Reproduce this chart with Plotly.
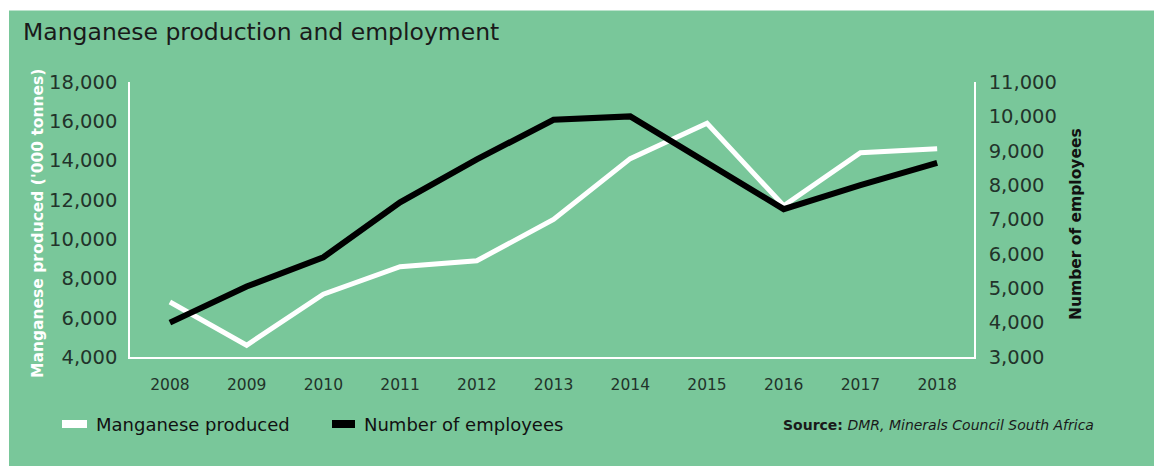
import plotly.graph_objects as go

# Data
years = [2008, 2009, 2010, 2011, 2012, 2013, 2014, 2015, 2016, 2017, 2018]
manganese_produced = [6800, 4600, 7200, 8600, 8900, 11000, 14100, 15900, 11700, 14400, 14600]  # '000 tonnes
employees = [4000, 5050, 5900, 7500, 8750, 9900, 10000, 8650, 7300, 8000, 8650]

left_ticks = [4000, 6000, 8000, 10000, 12000, 14000, 16000, 18000]
right_ticks = [3000, 4000, 5000, 6000, 7000, 8000, 9000, 10000, 11000]

BG = "#79C79A"
DARK = "#22332a"
FONT = "DejaVu Sans"

W, H = 1154, 466
L, R, T, B = 130, 180, 82, 109


def px(x):
    return (x - L) / (W - L - R)


def py(y):
    return (H - B - y) / (H - T - B)


fig = go.Figure()

fig.add_trace(go.Scatter(
    x=years, y=manganese_produced, mode="lines", name="Manganese produced",
    line=dict(color="white", width=5), yaxis="y", showlegend=False,
))
fig.add_trace(go.Scatter(
    x=years, y=employees, mode="lines", name="Number of employees",
    line=dict(color="black", width=6), yaxis="y2", showlegend=False,
))

y_font = dict(family=FONT, size=19.5, color=DARK)
x_font = dict(family=FONT, size=15.5, color=DARK)

fig.update_layout(
    width=W, height=H,
    margin=dict(l=L, r=R, t=T, b=B),
    paper_bgcolor=BG,
    plot_bgcolor="rgba(0,0,0,0)",
    font=dict(family=FONT, color=DARK),
    xaxis=dict(
        range=[2007.48, 2018.48], tickvals=years, ticktext=[str(y) for y in years],
        showgrid=False, zeroline=False, showline=True, linecolor="white", linewidth=1.5,
        tickfont=x_font, ticks="", ticklabelstandoff=13,
    ),
    yaxis=dict(
        range=[4000, 18000], tickvals=left_ticks, ticktext=[f"{v:,}" for v in left_ticks],
        showgrid=False, zeroline=False, showline=True, linecolor="white", linewidth=1.5,
        tickfont=y_font, ticks="", ticklabelstandoff=7,
    ),
    yaxis2=dict(
        range=[3000, 11000], tickvals=right_ticks, ticktext=[f"{v:,}" for v in right_ticks],
        overlaying="y", side="right",
        showgrid=False, zeroline=False, showline=True, linecolor="white", linewidth=1.5,
        tickfont=y_font, ticks="", ticklabelstandoff=9,
    ),
    showlegend=False,
)

shapes = [
    # white outer border strips (top and left)
    dict(type="rect", xref="paper", yref="paper", x0=px(-5), x1=px(W + 5), y0=py(10.5), y1=py(-5),
         fillcolor="white", line=dict(width=0), layer="below"),
    dict(type="rect", xref="paper", yref="paper", x0=px(-5), x1=px(9), y0=py(H + 5), y1=py(-5),
         fillcolor="white", line=dict(width=0), layer="below"),
    # legend swatches
    dict(type="line", xref="paper", yref="paper", x0=px(62), x1=px(87), y0=py(424), y1=py(424),
         line=dict(color="white", width=8)),
    dict(type="line", xref="paper", yref="paper", x0=px(332), x1=px(355), y0=py(424), y1=py(424),
         line=dict(color="black", width=8)),
]

annotations = [
    dict(text="Manganese production and employment", xref="paper", yref="paper",
         x=px(21), y=py(32), xanchor="left", yanchor="middle", showarrow=False,
         font=dict(family=FONT, size=23.5, color="#1a1a1a")),
    dict(text="Manganese produced ('000 tonnes)", xref="paper", yref="paper",
         x=px(38), y=py(224), xanchor="center", yanchor="middle", textangle=-90, showarrow=False,
         font=dict(family=FONT, size=15.5, color="white", weight="bold")),
    dict(text="Number of employees", xref="paper", yref="paper",
         x=px(1076), y=py(224), xanchor="center", yanchor="middle", textangle=-90, showarrow=False,
         font=dict(family=FONT, size=15.5, color="#111111", weight="bold")),
    dict(text="Manganese produced", xref="paper", yref="paper",
         x=px(94), y=py(424), xanchor="left", yanchor="middle", showarrow=False,
         font=dict(family=FONT, size=18, color="#111111")),
    dict(text="Number of employees", xref="paper", yref="paper",
         x=px(362), y=py(424), xanchor="left", yanchor="middle", showarrow=False,
         font=dict(family=FONT, size=18, color="#111111")),
    dict(text="<b>Source:</b> <i>DMR, Minerals Council South Africa</i>", xref="paper", yref="paper",
         x=px(1096), y=py(425), xanchor="right", yanchor="middle", showarrow=False,
         font=dict(family=FONT, size=14, color="#1a1a1a")),
]

fig.update_layout(shapes=shapes, annotations=annotations)

fig.write_html("out.html")
